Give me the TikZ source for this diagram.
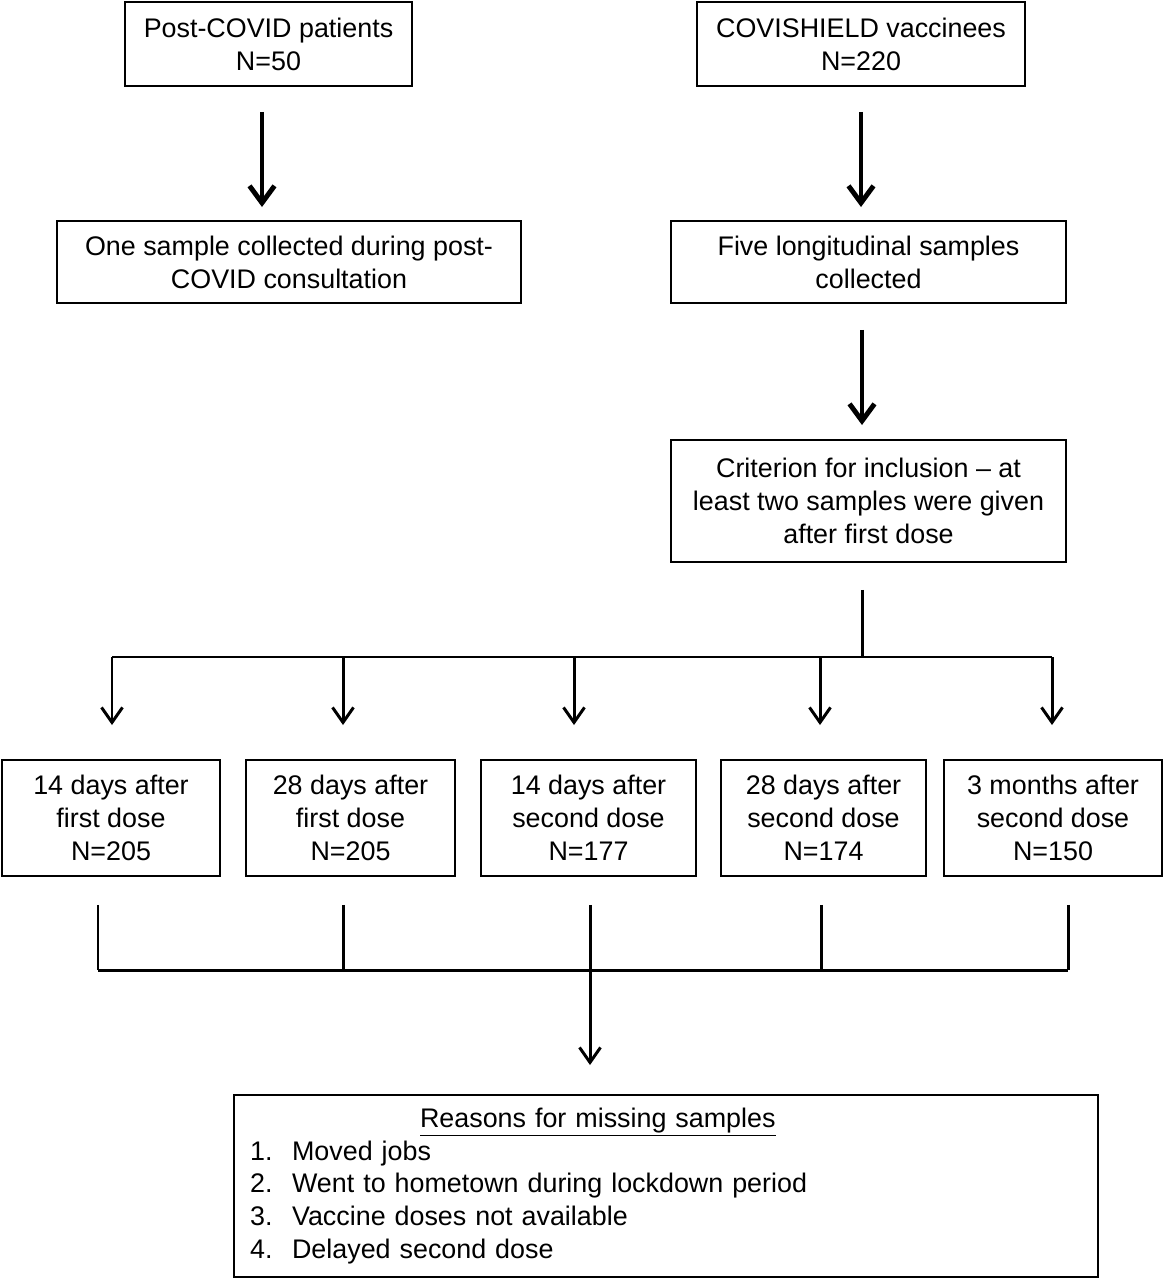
\documentclass[tikz,border=0pt]{standalone}
\usepackage{fontspec}
\setmainfont{Liberation Sans}
\usetikzlibrary{positioning,arrows.meta}
\usepackage{xcolor}

\begin{document}
\begin{tikzpicture}
[x=0.02cm, y=-0.02cm,
font=\fontsize{15.3pt}{18.7pt}\selectfont,
% The box style is used to draw the cohorts and the sampling steps
box/.style={rectangle, draw, line width=1.2pt, inner sep=0pt, outer sep=0pt, align=center},
% The reason style is used for the list of missing samples
reason/.style={rectangle, draw, line width=1.2pt, inner xsep=0.32cm, inner ysep=0pt, outer sep=0pt, text width=16.64cm, minimum height=3.64cm, align=left},
% The arrow styles are used between the boxes
bigarrow/.style={line width=2.8pt, -{Straight Barb[length=0.34cm, width=0.5cm]}},
smallarrow/.style={line width=1.7pt, -{Straight Barb[length=0.3cm, width=0.42cm]}},
link/.style={line width=1.7pt}
]
\useasboundingbox (0,0) rectangle (1166,1280);
% Draw cohorts
\node[box, minimum width=5.74cm, minimum height=1.68cm] (patients) at (268.5,44) {Post-COVID patients\\N=50};
\node[box, minimum width=6.56cm, minimum height=1.68cm] (vaccinees) at (861,44) {COVISHIELD vaccinees\\N=220};
\node[box, minimum width=9.28cm, minimum height=1.64cm] (onesample) at (289,262) {One sample collected during post-\\COVID consultation};
\node[box, minimum width=7.9cm, minimum height=1.64cm] (fivesamples) at (868.5,262) {Five longitudinal samples\\collected};
\node[box, minimum width=7.9cm, minimum height=2.44cm] (criterion) at (868.5,501) {Criterion for inclusion -- at\\least two samples were given\\after first dose};
% Draw time points
\node[box, minimum width=4.36cm, minimum height=2.32cm] (firstA) at (111,818) {14 days after\\first dose\\N=205};
\node[box, minimum width=4.18cm, minimum height=2.32cm] (firstB) at (350.5,818) {28 days after\\first dose\\N=205};
\node[box, minimum width=4.3cm, minimum height=2.32cm] (secondA) at (588.5,818) {14 days after\\second dose\\N=177};
\node[box, minimum width=4.1cm, minimum height=2.32cm] (secondB) at (823.5,818) {28 days after\\second dose\\N=174};
\node[box, minimum width=4.36cm, minimum height=2.32cm] (threemonths) at (1053,818) {3 months after\\second dose\\N=150};
\node[reason] (reasons) at (666,1186) {\hspace*{3.4cm}\underline{Reasons for missing samples}\\
\makebox[0.84cm][l]{1.}Moved jobs\\
\makebox[0.84cm][l]{2.}Went to hometown during lockdown period\\
\makebox[0.84cm][l]{3.}Vaccine doses not available\\
\makebox[0.84cm][l]{4.}Delayed second dose};
\coordinate (split) at (862,657);
\coordinate (join) at (590,970);
% Draw arrows
\draw[bigarrow, shorten <=0.52cm, shorten >=0.28cm]([xshift=-0.13cm]patients.south) -- ([xshift=-0.13cm]patients.south |- onesample.north);
\draw[bigarrow, shorten <=0.52cm, shorten >=0.28cm](vaccinees.south) -- (vaccinees.south |- fivesamples.north);
\draw[bigarrow, shorten <=0.54cm, shorten >=0.3cm]([xshift=-0.13cm]fivesamples.south) -- ([xshift=-0.13cm]fivesamples.south |- criterion.north);
\draw[link, shorten <=0.56cm](criterion.south -| split) -- (split);
\draw[link]([xshift=0.02cm]firstA.north |- split) -- ([xshift=-0.02cm]threemonths.north |- split);
\foreach \n/\dx in {firstA/0.02cm, firstB/-0.15cm, secondA/-0.29cm, secondB/-0.07cm, threemonths/-0.02cm}
  \draw[smallarrow, shorten >=0.7cm]([xshift=\dx]\n.north |- split) -- ([xshift=\dx]\n.north);
\foreach \n/\dx in {firstA/-0.26cm, firstB/-0.15cm, secondA/0.03cm, secondB/-0.05cm, threemonths/0.3cm}
  \draw[link, shorten <=0.58cm]([xshift=\dx]\n.south) -- ([xshift=\dx]\n.south |- join);
\draw[link]([xshift=-0.26cm]firstA.south |- join) -- ([xshift=0.3cm]threemonths.south |- join);
\draw[smallarrow, shorten >=0.6cm](join) -- (join |- reasons.north);
\end{tikzpicture}
\end{document}
